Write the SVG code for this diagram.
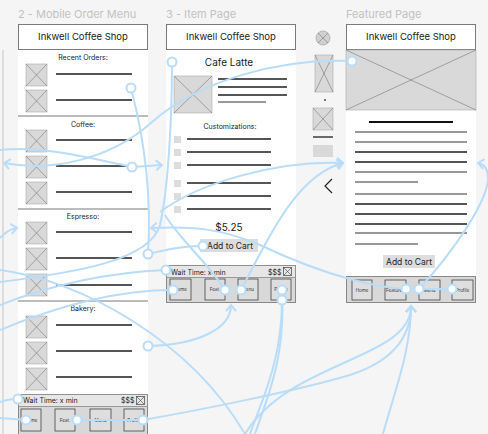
<svg xmlns="http://www.w3.org/2000/svg" width="488" height="434" viewBox="0 0 488 434">
<style>
.lbl{font-family:Inter,"Liberation Sans",sans-serif;font-size:11px;fill:#c2c2c2}
.t{font-family:Inter,"Liberation Sans",sans-serif;fill:#222}
.hdr{fill:#fff;stroke:#7a7a7a;stroke-width:1}
.ph{fill:#d9d9d9;stroke:#aaa;stroke-width:.6}
.x{stroke:#777;stroke-width:.6}
.ln{stroke:#1e1e1e;stroke-width:1.3}
.lg{stroke:#777;stroke-width:1.3}
.sep{stroke:#555;stroke-width:.8}
.bar{fill:#d8d8d8;stroke:#888;stroke-width:1}
.wr{fill:#e6e6e6;stroke:#888;stroke-width:.8}
.nb{fill:#dedede;stroke:#444;stroke-width:.8}
.nt{font-family:Inter,"Liberation Sans",sans-serif;font-size:4.5px;fill:#333}
.c{fill:none;stroke:#b9ddf8;stroke-width:2}
.dot{fill:#fff;stroke:#b9ddf8;stroke-width:2}
.sq{fill:#ddd}
</style>
<defs>
<marker id="ar" markerUnits="userSpaceOnUse" markerWidth="14" markerHeight="14" viewBox="-8 -7 10 14" refX="0" refY="0" orient="auto">
<path d="M-6,-5 L0,0 L-6,5" fill="none" stroke="#b9ddf8" stroke-width="2"/>
</marker>
</defs>
<rect width="488" height="434" fill="#f5f5f5"/>
<line x1="3" y1="50" x2="3" y2="434" stroke="#ddd" stroke-width="2"/>

<g id="frame-menu">
<text class="lbl" x="18" y="18">2 - Mobile Order Menu</text>
<rect x="18" y="24" width="130" height="410" fill="#fff"/>
<rect class="hdr" x="18.5" y="24.5" width="129" height="25"/>
<text class="t" x="83" y="40" font-size="9.5" text-anchor="middle">Inkwell Coffee Shop</text>
<g font-size="7" text-anchor="middle" class="t">
<text x="83" y="60">Recent Orders:</text>
<text x="83" y="127">Coffee:</text>
<text x="83" y="219">Espresso:</text>
<text x="83" y="311">Bakery:</text>
</g>
<g>
<rect class="ph" x="26" y="64" width="21" height="22"/><path class="x" d="M26,64L47,86M47,64L26,86"/>
<rect class="ph" x="26" y="90" width="21" height="22"/><path class="x" d="M26,90L47,112M47,90L26,112"/>
<rect class="ph" x="26" y="130" width="21" height="22"/><path class="x" d="M26,130L47,152M47,130L26,152"/>
<rect class="ph" x="26" y="156" width="21" height="22"/><path class="x" d="M26,156L47,178M47,156L26,178"/>
<rect class="ph" x="26" y="182" width="21" height="22"/><path class="x" d="M26,182L47,204M47,182L26,204"/>
<rect class="ph" x="26" y="222" width="21" height="22"/><path class="x" d="M26,222L47,244M47,222L26,244"/>
<rect class="ph" x="26" y="248" width="21" height="22"/><path class="x" d="M26,248L47,270M47,248L26,270"/>
<rect class="ph" x="26" y="274" width="21" height="22"/><path class="x" d="M26,274L47,296M47,274L26,296"/>
<rect class="ph" x="26" y="316" width="21" height="22"/><path class="x" d="M26,316L47,338M47,316L26,338"/>
<rect class="ph" x="26" y="342" width="21" height="22"/><path class="x" d="M26,342L47,364M47,342L26,364"/>
<rect class="ph" x="26" y="368" width="21" height="22"/><path class="x" d="M26,368L47,390M47,368L26,390"/>
</g>
<path class="ln" d="M56,74H132M56,100H132M56,140H132M56,166H132M56,192H132M56,232H132M56,258H132M56,285H132M56,325H132M56,351H132M56,377H132"/>
<path class="sep" d="M18,116H148M18,209H148M18,301H148"/>
<rect class="bar" x="18.5" y="394.5" width="129" height="40"/>
<rect class="wr" x="18.5" y="394.5" width="129" height="12"/>
<text class="t" x="23" y="403" font-size="7">Wait Time: x min</text>
<text class="t" x="121" y="403" font-size="7">$$$</text>
<rect x="136.5" y="396.5" width="8" height="8" fill="none" stroke="#444" stroke-width=".7"/><path d="M136.5,396.5l8,8m0,-8l-8,8" stroke="#444" stroke-width=".6"/>
<rect class="nb" x="21" y="409" width="20" height="22"/><text class="nt" x="31" y="421.5" text-anchor="middle">Home</text>
<rect class="nb" x="55" y="409" width="20" height="22"/><text class="nt" x="65" y="421.5" text-anchor="middle">Feat.</text>
<rect class="nb" x="90" y="409" width="21" height="22"/><text class="nt" x="100.5" y="421.5" text-anchor="middle">Menu</text>
<rect class="nb" x="124" y="409" width="20" height="22"/><text class="nt" x="134" y="421.5" text-anchor="middle">Profile</text>
</g>

<g id="frame-item">
<text class="lbl" x="166" y="18">3 - Item Page</text>
<rect x="166" y="24" width="130" height="279" fill="#fff"/>
<rect class="hdr" x="166.5" y="24.5" width="129" height="25"/>
<text class="t" x="231" y="40" font-size="9.5" text-anchor="middle">Inkwell Coffee Shop</text>
<text class="t" x="229" y="66" font-size="10" text-anchor="middle">Cafe Latte</text>
<rect class="ph" x="174" y="76" width="38" height="37"/><path class="x" d="M174,76L212,113M212,76L174,113"/>
<path class="ln" d="M218,79H287M218,87H287M218,95H287"/>
<path class="lg" d="M218,102H266"/>
<text class="t" x="230" y="129" font-size="7" text-anchor="middle">Customizations:</text>
<g class="sq">
<rect x="174" y="136" width="7" height="7"/><rect x="174" y="149" width="7" height="7"/><rect x="174" y="162" width="7" height="7"/>
<rect x="174" y="180" width="7" height="7"/><rect x="174" y="193" width="7" height="7"/><rect x="174" y="206" width="7" height="7"/>
</g>
<path class="ln" d="M187,139H271M187,152H271M187,165H271M187,183H271M187,196H271M187,209H271"/>
<text class="t" x="229" y="231" font-size="10" text-anchor="middle">$5.25</text>
<rect x="200" y="239" width="58" height="13" fill="#ddd"/>
<text class="t" x="230" y="249" font-size="8.5" text-anchor="middle">Add to Cart</text>
<rect class="bar" x="166.5" y="265.5" width="129" height="37"/>
<rect class="wr" x="166.5" y="265.5" width="129" height="12"/>
<text class="t" x="171" y="274.5" font-size="7">Wait Time: x min</text>
<text class="t" x="268" y="274.5" font-size="7">$$$</text>
<rect x="283.5" y="267.5" width="8" height="8" fill="none" stroke="#444" stroke-width=".7"/><path d="M283.5,267.5l8,8m0,-8l-8,8" stroke="#444" stroke-width=".6"/>
<rect class="nb" x="170" y="279" width="21" height="21"/><text class="nt" x="180.5" y="291" text-anchor="middle">Home</text>
<rect class="nb" x="205" y="279" width="20" height="21"/><text class="nt" x="215" y="291" text-anchor="middle">Feat.</text>
<rect class="nb" x="238" y="279" width="20" height="21"/><text class="nt" x="248" y="291" text-anchor="middle">Menu</text>
<rect class="nb" x="271" y="279" width="20" height="21"/><text class="nt" x="281" y="291" text-anchor="middle">Profile</text>
</g>

<g id="components">
<circle cx="323" cy="38" r="7" fill="#d0d0d0" stroke="#999" stroke-width=".6"/><path class="x" d="M318,33L328,43M328,33L318,43"/>
<rect class="ph" x="315" y="55" width="18" height="37"/><path class="x" d="M315,55L333,92M333,55L315,92"/>
<circle cx="325" cy="100" r="0.9" fill="#333"/>
<rect class="ph" x="313" y="108" width="20" height="22"/><path class="x" d="M313,108L333,130M333,108L313,130"/>
<path class="ln" d="M313,137H333"/>
<rect x="313" y="145" width="20" height="12" fill="#d9d9d9"/>
<path d="M332,179L325,186L332,193" fill="none" stroke="#222" stroke-width="1.2"/>
</g>

<g id="frame-featured">
<text class="lbl" x="346" y="18">Featured Page</text>
<rect x="346" y="24" width="130" height="279" fill="#fff"/>
<rect class="hdr" x="346.5" y="24.5" width="129" height="25"/>
<text class="t" x="411" y="40" font-size="9.5" text-anchor="middle">Inkwell Coffee Shop</text>
<rect class="ph" x="346" y="50" width="130" height="60"/><path class="x" d="M346,50L476,110M476,50L346,110"/>
<path d="M369,122H453" stroke="#111" stroke-width="2"/>
<path class="lg" d="M355,132H467M355,142H467M355,172H467M355,194H467M355,233H467"/>
<path class="ln" d="M355,152H467M355,162H467M355,204H467M355,214H467M355,224H467"/>
<path class="lg" d="M355,182H418M355,244H418"/>
<rect x="383" y="255" width="52" height="13" fill="#ddd"/>
<text class="t" x="409" y="265" font-size="8.5" text-anchor="middle">Add to Cart</text>
<rect class="bar" x="346.5" y="276.5" width="129" height="26"/>
<rect class="nb" x="352" y="280" width="20" height="20"/><text class="nt" x="362" y="291.5" text-anchor="middle">Home</text>
<rect class="nb" x="385" y="280" width="21" height="20"/><text class="nt" x="395.5" y="291.5" text-anchor="middle">Featured</text>
<rect class="nb" x="419" y="280" width="21" height="20"/><text class="nt" x="429.5" y="291.5" text-anchor="middle">Menu</text>
<rect class="nb" x="452" y="280" width="21" height="20"/><text class="nt" x="462.5" y="291.5" text-anchor="middle">Profile</text>
</g>

<g id="connectors">
<path class="c" d="M352,61 C280,58 200,80 152,122 C110,160 50,172 4,163" marker-end="url(#ar)"/>
<path class="c" d="M131,88 C142,130 152,190 148,254"/>
<path class="c" d="M132,167 L162,165" marker-end="url(#ar)"/>
<path class="c" d="M132,167 C90,158 40,145 0,150"/>
<path class="c" d="M172,62 C172,120 168,190 160,225 C150,260 80,272 0,282"/>
<path class="c" d="M0,238 C6,232 10,229 17,228" marker-end="url(#ar)"/>
<path class="c" d="M452,289 L406,289 C380,288 330,278 260,245 C220,228 190,226 151,228" marker-end="url(#ar)"/>
<path class="c" d="M241,290 C265,245 295,175 343,163" marker-end="url(#ar)"/>
<path class="c" d="M160,212 C200,182 280,160 343,163" marker-end="url(#ar)"/>
<path class="c" d="M419,289 C455,250 488,200 488,178 C488,168 484,164 478,163" marker-end="url(#ar)"/>
<path class="c" d="M225,290 C210,265 180,240 165,215"/>
<path class="c" d="M203,246 C180,246 165,250 148,254"/>
<path class="c" d="M166,270 C110,272 50,285 0,305"/>
<path class="c" d="M173,290 C120,290 60,305 0,330"/>
<path class="c" d="M148,346 C195,345 231,330 231,305" marker-end="url(#ar)"/>
<path class="c" d="M282,300 C282,360 262,400 250,434"/>
<path class="c" d="M282,290 C286,360 266,400 255,434"/>
<path class="c" d="M0,270 C80,280 190,340 245,434"/>
<path class="c" d="M245,434 C290,360 411,360 411,306" marker-end="url(#ar)"/>
<path class="c" d="M77,420 L143,420 C200,410 300,390 350,375 C390,362 411,340 411,306" marker-end="url(#ar)"/>
<path class="c" d="M383,434 C395,390 411,350 411,306" marker-end="url(#ar)"/>
<path class="c" d="M18,399 C10,399 5,400 0,402"/>
<path class="c" d="M26,420 L0,418"/>
<circle class="dot" cx="352" cy="61" r="4.5"/>
<circle class="dot" cx="131" cy="88" r="4.5"/>
<circle class="dot" cx="132" cy="167" r="4.5"/>
<circle class="dot" cx="148" cy="254" r="4.5"/>
<circle class="dot" cx="148" cy="346" r="4.5"/>
<circle class="dot" cx="172" cy="62" r="4.5"/>
<circle class="dot" cx="203" cy="246" r="4.5"/>
<circle class="dot" cx="166" cy="270" r="4.5"/>
<circle class="dot" cx="173" cy="290" r="4.5"/>
<circle class="dot" cx="225" cy="290" r="4.5"/>
<circle class="dot" cx="241" cy="290" r="4.5"/>
<circle class="dot" cx="282" cy="290" r="4.5"/>
<circle class="dot" cx="282" cy="300" r="4.5"/>
<circle class="dot" cx="406" cy="289" r="4.5"/>
<circle class="dot" cx="419" cy="289" r="4.5"/>
<circle class="dot" cx="452" cy="289" r="4.5"/>
<circle class="dot" cx="18" cy="399" r="4.5"/>
<circle class="dot" cx="26" cy="420" r="4.5"/>
<circle class="dot" cx="77" cy="420" r="4.5"/>
<circle class="dot" cx="143" cy="420" r="4.5"/>
</g>
</svg>
